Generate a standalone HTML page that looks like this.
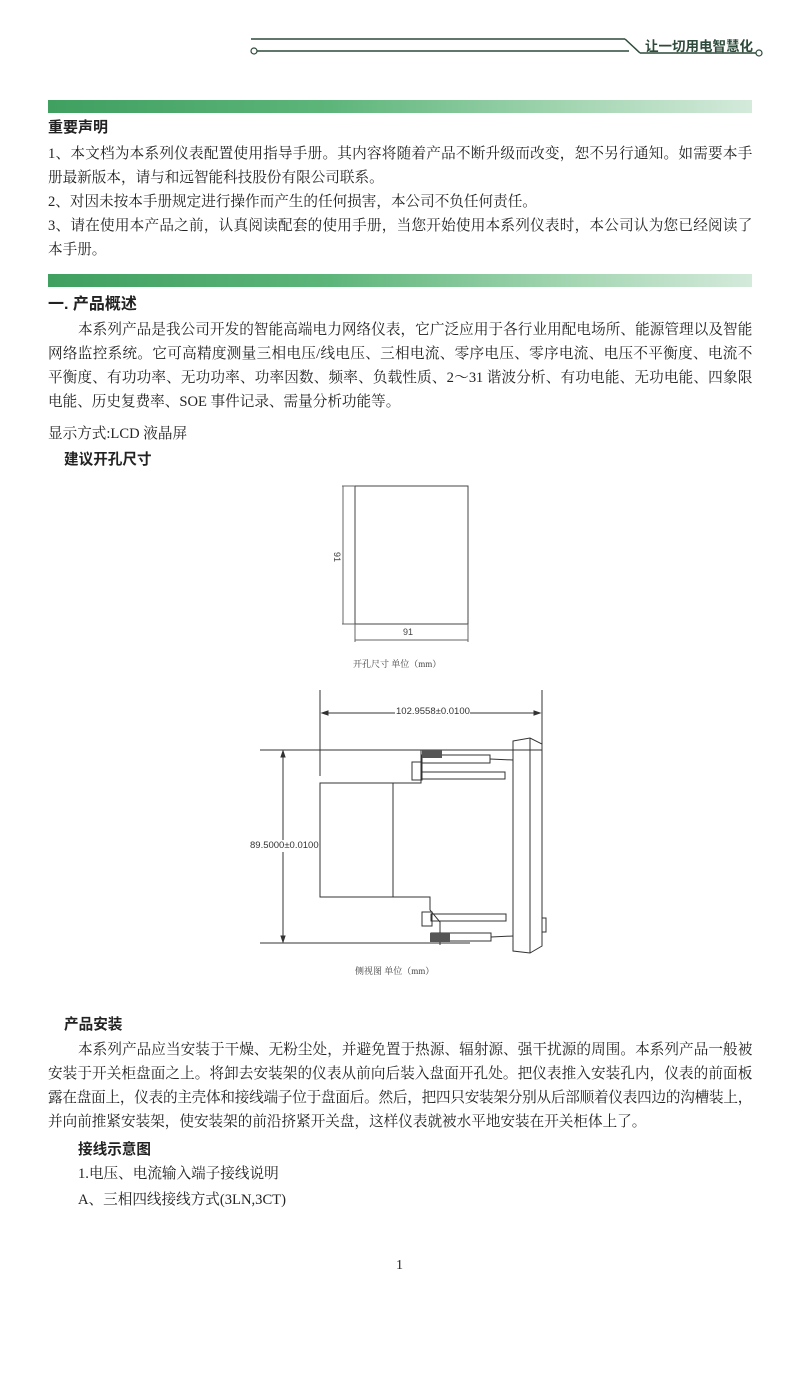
<!DOCTYPE html>
<html><head><meta charset="utf-8"><style>
body{margin:0;background:#fff;}
#p{position:relative;width:800px;height:1382px;overflow:hidden;font-family:"Liberation Serif","Noto Serif CJK SC",serif;color:#222;}
.l{position:absolute;left:48px;font-size:14.6px;line-height:20px;white-space:nowrap;}
.j{width:704px;text-align:justify;text-align-last:justify;letter-spacing:-0.3px;}
.b{font-family:"Liberation Sans","Noto Sans CJK SC",sans-serif;font-weight:bold;}
.bar{position:absolute;left:48px;width:704px;height:13px;background:linear-gradient(to right,#3fa060 0%,#5db57a 40%,#a5d6b3 75%,#d4eadb 100%);}
svg{position:absolute;left:0;top:0;}
</style></head><body><div id="p">
<svg width="800" height="1382" viewBox="0 0 800 1382" fill="none" stroke="#333" stroke-width="1">
<line x1="251" y1="39" x2="625" y2="39" stroke="#2d4a3a" stroke-width="1.5"/>
<line x1="625" y1="39" x2="640" y2="53" stroke="#2d4a3a" stroke-width="1.5"/>
<line x1="640" y1="53" x2="756" y2="53" stroke="#2d4a3a" stroke-width="1.5"/>
<line x1="257" y1="51" x2="629" y2="51" stroke="#2d4a3a" stroke-width="1.5"/>
<circle cx="254" cy="51" r="3" stroke="#2d4a3a" stroke-width="1.2"/>
<circle cx="759" cy="53" r="3" stroke="#2d4a3a" stroke-width="1.2"/>
<rect x="355" y="486" width="113" height="138" stroke="#444"/>
<line x1="342" y1="486" x2="355" y2="486" stroke="#666"/>
<line x1="342" y1="624" x2="355" y2="624" stroke="#666"/>
<line x1="343" y1="486" x2="343" y2="624" stroke="#666"/>
<line x1="355" y1="624" x2="355" y2="642" stroke="#666"/>
<line x1="468" y1="624" x2="468" y2="642" stroke="#666"/>
<line x1="355" y1="640" x2="468" y2="640" stroke="#666"/>
<line x1="320" y1="690" x2="320" y2="776"/>
<line x1="542" y1="690" x2="542" y2="745"/>
<line x1="322" y1="713" x2="395" y2="713"/><line x1="470" y1="713" x2="540" y2="713"/>
<path d="M322 713 l6 -2 v4z M540 713 l-6 -2 v4z" fill="#333"/>
<line x1="260" y1="750" x2="542" y2="750"/>
<line x1="260" y1="943" x2="470" y2="943"/>
<line x1="283" y1="752" x2="283" y2="840"/><line x1="283" y1="852" x2="283" y2="941"/>
<path d="M283 751 l-2 6 h4z M283 942 l-2 -6 h4z" fill="#333"/>
<rect x="320" y="783" width="73" height="114"/>
<path d="M393 783 H421 V760 H421 V750 M393 897 H430 V910 L440 922 V945"/>
<rect x="412" y="762" width="10" height="18"/>
<rect x="422" y="772" width="83" height="7"/>
<rect x="422" y="755" width="68" height="8"/>
<rect x="422" y="912" width="10" height="14"/>
<rect x="431" y="914" width="75" height="7"/>
<rect x="431" y="933" width="60" height="8"/>
<rect x="422" y="750" width="20" height="8" fill="#555" stroke="none"/>
<rect x="430" y="933" width="20" height="9" fill="#555" stroke="none"/>
<line x1="490" y1="759" x2="513" y2="760"/><line x1="491" y1="937" x2="513" y2="936"/>
<path d="M513 741 L530 738 L542 744 V946 L530 953 L513 951 Z"/>
<line x1="530" y1="738" x2="530" y2="953"/>
<rect x="542" y="918" width="4" height="14"/>
</svg>
<div style="position:absolute;left:645px;top:35px;font-family:'Liberation Sans','Noto Sans CJK SC',sans-serif;font-weight:bold;font-size:13.5px;color:#2d4a3a;">让一切用电智慧化</div>
<div class="bar" style="top:100px"></div>
<div class="l b" style="top:118px;font-size:15px">重要声明</div>
<div class="l j" style="top:144px">1、本文档为本系列仪表配置使用指导手册。其内容将随着产品不断升级而改变，恕不另行通知。如需要本手</div>
<div class="l" style="top:168px">册最新版本，请与和远智能科技股份有限公司联系。</div>
<div class="l" style="top:192px">2、对因未按本手册规定进行操作而产生的任何损害，本公司不负任何责任。</div>
<div class="l j" style="top:216px">3、请在使用本产品之前，认真阅读配套的使用手册，当您开始使用本系列仪表时，本公司认为您已经阅读了</div>
<div class="l" style="top:240px">本手册。</div>
<div class="bar" style="top:274px"></div>
<div class="l b" style="top:295px;font-size:16px">一. 产品概述</div>
<div class="l j" style="top:320px;left:78px;width:674px">本系列产品是我公司开发的智能高端电力网络仪表，它广泛应用于各行业用配电场所、能源管理以及智能</div>
<div class="l j" style="top:344px">网络监控系统。它可高精度测量三相电压/线电压、三相电流、零序电压、零序电流、电压不平衡度、电流不</div>
<div class="l j" style="top:368px">平衡度、有功功率、无功功率、功率因数、频率、负载性质、2～31 谐波分析、有功电能、无功电能、四象限</div>
<div class="l" style="top:392px">电能、历史复费率、SOE 事件记录、需量分析功能等。</div>
<div class="l" style="top:424px">显示方式:LCD 液晶屏</div>
<div class="l b" style="top:450px;left:64px">建议开孔尺寸</div>
<div style="position:absolute;left:403px;top:627px;font:9px 'Liberation Sans',sans-serif;color:#444">91</div>
<div style="position:absolute;left:332px;top:552px;font:9px 'Liberation Sans',sans-serif;color:#444;transform:rotate(90deg)">91</div>
<div style="position:absolute;left:353px;top:657px;font-size:9px;color:#444">开孔尺寸 单位（mm）</div>
<div style="position:absolute;left:396px;top:706px;font:9.5px 'Liberation Sans',sans-serif;color:#333;background:#fff">102.9558±0.0100</div>
<div style="position:absolute;left:250px;top:840px;font:9.5px 'Liberation Sans',sans-serif;color:#333;background:#fff">89.5000±0.0100</div>
<div style="position:absolute;left:355px;top:964px;font-size:9px;color:#444">侧视图 单位（mm）</div>
<div class="l b" style="top:1015px;left:64px">产品安装</div>
<div class="l j" style="top:1040px;left:78px;width:674px">本系列产品应当安装于干燥、无粉尘处，并避免置于热源、辐射源、强干扰源的周围。本系列产品一般被</div>
<div class="l j" style="top:1064px">安装于开关柜盘面之上。将卸去安装架的仪表从前向后装入盘面开孔处。把仪表推入安装孔内，仪表的前面板</div>
<div class="l j" style="top:1088px">露在盘面上，仪表的主壳体和接线端子位于盘面后。然后，把四只安装架分别从后部顺着仪表四边的沟槽装上，</div>
<div class="l" style="top:1112px">并向前推紧安装架，使安装架的前沿挤紧开关盘，这样仪表就被水平地安装在开关柜体上了。</div>
<div class="l b" style="top:1140px;left:78px">接线示意图</div>
<div class="l" style="top:1164px;left:78px">1.电压、电流输入端子接线说明</div>
<div class="l" style="top:1190px;left:78px">A、三相四线接线方式(3LN,3CT)</div>
<div class="l" style="top:1256px;left:396px;font-size:14px">1</div>
</div></body></html>
